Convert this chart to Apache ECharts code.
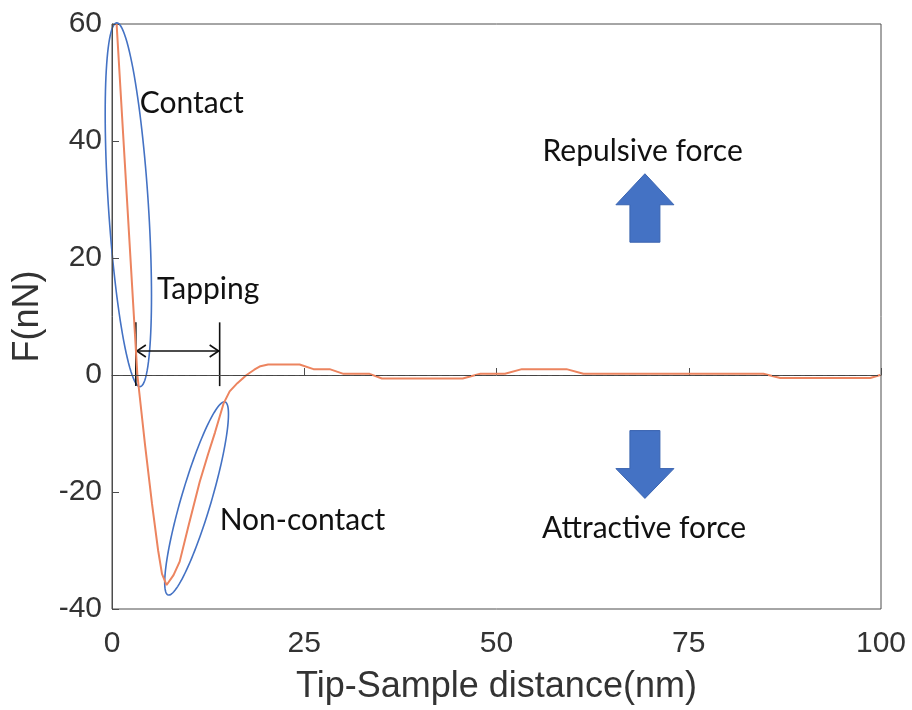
<!DOCTYPE html>
<html>
<head>
<meta charset="utf-8">
<script src="https://cdn.jsdelivr.net/npm/echarts@6/dist/echarts.min.js"></script>
<style>
  * { margin: 0; padding: 0; }
  html, body { background: #fff; }
  #main { width: 912px; height: 710px; }
</style>
</head>
<body>
<div id="main"></div>
<script>
// tip-sample distance (nm) and force (nN)
var distance = [0.6, 3.3, 4.3, 5.2, 6.0, 6.5, 7.1, 8.0, 8.8, 10.0, 11.4, 12.5, 13.4, 14.5, 15.3, 16.3, 17.5, 18.5, 19.3, 20.3, 24.4, 26.2, 28.3, 30.1, 33.5, 35.1, 45.6, 47.9, 51.1, 53.3, 59.1, 61.3, 84.7, 86.9, 98.6, 99.9]
var force = [60, 0, -12, -22, -30, -34, -35.9, -34.2, -31.9, -25.5, -18.3, -13.5, -9.8, -4.9, -2.8, -1.4, 0, 0.9, 1.5, 1.8, 1.8, 1.0, 1.0, 0.2, 0.2, -0.6, -0.6, 0.2, 0.2, 1.0, 1.0, 0.2, 0.2, -0.5, -0.5, 0]
var xTicks = [0, 25, 50, 75, 100]
var yTicks = [-40, -20, 0, 20, 40, 60]

var blue = '#4472c4'
var myChart = echarts.init(document.getElementById('main'))

var option = {
  animation: false,
  grid: {
    left: 112, right: 31, top: 24, bottom: 100,
    show: true, borderColor: '#4d4d4d', borderWidth: 1
  },
  xAxis: {
    type: 'value',
    min: xTicks[0], max: xTicks[xTicks.length - 1], interval: 25,
    name: 'Tip-Sample distance(nm)',
    nameLocation: 'middle', nameGap: 60,
    nameTextStyle: { fontFamily: 'Liberation Sans', fontSize: 36, color: '#333' },
    axisLine: { lineStyle: { color: '#4d4d4d' } },
    axisTick: { inside: true, length: 7, lineStyle: { color: '#4d4d4d' } },
    axisLabel: { fontFamily: 'Liberation Sans', fontSize: 30, color: '#333', margin: 20 },
    splitLine: { show: false }
  },
  yAxis: {
    type: 'value',
    min: yTicks[0], max: yTicks[yTicks.length - 1], interval: 20,
    name: 'F(nN)',
    nameLocation: 'middle', nameGap: 66, nameRotate: 90,
    nameTextStyle: { fontFamily: 'Liberation Sans', fontSize: 36, color: '#333' },
    axisLine: { lineStyle: { color: '#4d4d4d' } },
    axisTick: { inside: true, length: 7, lineStyle: { color: '#4d4d4d' } },
    axisLabel: { fontFamily: 'Liberation Sans', fontSize: 30, color: '#333', margin: 10 },
    splitLine: { show: false }
  },
  series: [{
    type: 'line',
    data: distance.map(function (d, i) { return [d, force[i]] }),
    showSymbol: false,
    lineStyle: { color: '#ec845f', width: 2 },
    markLine: {
      silent: true,
      symbol: ['none', 'none'],
      label: { show: false },
      lineStyle: { color: '#444', type: [7, 4], width: 1 },
      data: [{ yAxis: 0 }]
    }
  }]
}
myChart.setOption(option)

// annotations, positioned in data coordinates
function px (x, y) { return myChart.convertToPixel({ gridIndex: 0 }, [x, y]) }

function ellipse (p1, p2, b) {
  var a = px(p1[0], p1[1]), c = px(p2[0], p2[1])
  var cx = (a[0] + c[0]) / 2, cy = (a[1] + c[1]) / 2
  var dx = (a[0] - c[0]) / 2, dy = (a[1] - c[1]) / 2
  var r = Math.sqrt(dx * dx + dy * dy)
  var ux = dx / r, uy = dy / r
  var pts = []
  for (var i = 0; i < 120; i++) {
    var t = i / 120 * Math.PI * 2
    pts.push([cx + r * Math.cos(t) * ux - b * Math.sin(t) * uy,
      cy + r * Math.cos(t) * uy + b * Math.sin(t) * ux])
  }
  return { type: 'polygon', shape: { points: pts }, style: { fill: 'none', stroke: blue, lineWidth: 1.6 } }
}

function blockArrow (x, yTip, yHead, yEnd) {
  var t = px(x, yTip), h = px(x, yHead), e = px(x, yEnd)
  var hw = 29, sw = 15
  return {
    type: 'polygon',
    shape: { points: [[t[0], t[1]], [t[0] + hw, h[1]], [t[0] + sw, h[1]], [t[0] + sw, e[1]],
      [t[0] - sw, e[1]], [t[0] - sw, h[1]], [t[0] - hw, h[1]]] },
    style: { fill: blue, stroke: '#3a64b0', lineWidth: 1 }
  }
}

function label (text, x, y, align) {
  var p = px(x, y)
  return {
    type: 'text', x: p[0], y: p[1],
    style: { text: text, fill: '#111', font: '30px Lato', align: align || 'left', verticalAlign: 'middle' }
  }
}

var tl = px(3.1, 9.0), tb = px(3.1, -1.9), tr = px(14.0, 9.0), tm = px(3.1, 4.1), tn = px(14.0, 4.1)
var ink = { stroke: '#111', lineWidth: 1.6 }

myChart.setOption({
  graphic: [
    ellipse([0.6, 60.2], [3.65, -2.0], 20),
    ellipse([14.7, -4.6], [7.3, -37.6], 15),
    { type: 'line', shape: { x1: tl[0], y1: tl[1], x2: tb[0], y2: tb[1] }, style: ink },
    { type: 'line', shape: { x1: tr[0], y1: tr[1], x2: tr[0], y2: tb[1] }, style: ink },
    { type: 'line', shape: { x1: tm[0], y1: tm[1], x2: tn[0], y2: tn[1] }, style: ink },
    { type: 'polyline', shape: { points: [[tm[0] + 10, tm[1] - 6], [tm[0] + 1, tm[1]], [tm[0] + 10, tm[1] + 6]] }, style: { stroke: '#111', lineWidth: 1.6, fill: 'none' } },
    { type: 'polyline', shape: { points: [[tn[0] - 10, tn[1] - 6], [tn[0] - 1, tn[1]], [tn[0] - 10, tn[1] + 6]] }, style: { stroke: '#111', lineWidth: 1.6, fill: 'none' } },
    blockArrow(69.3, 34.4, 29.1, 22.7),
    blockArrow(69.3, -21.1, -16.0, -9.5),
    label('Contact', 3.6, 46.5),
    label('Tapping', 5.85, 14.7),
    label('Non-contact', 14.0, -24.9),
    label('Repulsive force', 69.0, 38.2, 'center'),
    label('Attractive force', 69.2, -26.2, 'center')
  ]
})
</script>
</body>
</html>
